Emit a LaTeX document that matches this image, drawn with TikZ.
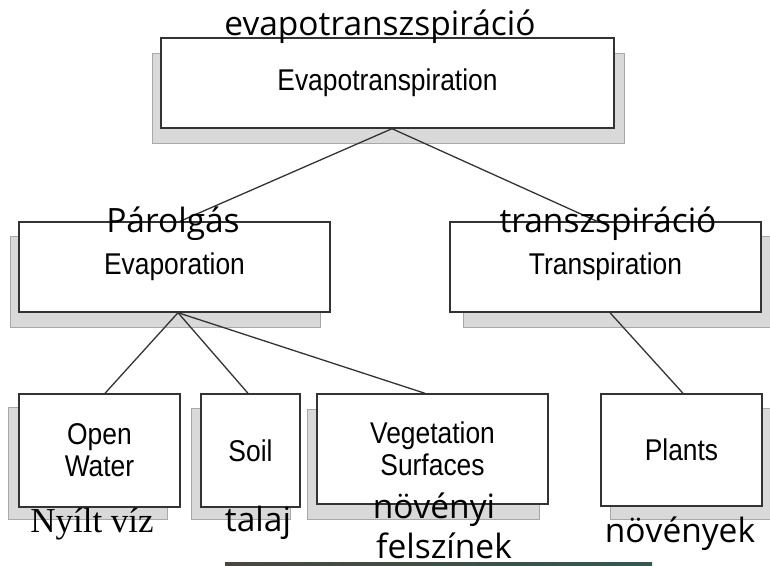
\documentclass[tikz,border=0pt]{standalone}
\usepackage{fontspec}
\setmainfont{Liberation Sans}
\newfontfamily\boxfont[FakeStretch=0.88]{Liberation Sans}
\newfontfamily\hufont{Open Sans}
\newfontfamily\hunserif{Liberation Serif}
\definecolor{boxline}{HTML}{333333}
\definecolor{shadowfill}{HTML}{D9D9D9}
\definecolor{shadowline}{HTML}{A8A8A8}
\definecolor{stripleft}{HTML}{4A463C}
\definecolor{stripright}{HTML}{2E5A52}
\begin{document}
\begin{tikzpicture}[x=1pt, y=-1pt,
    termbox/.style={draw=boxline, line width=1.4pt, fill=white, inner sep=0pt,
      align=center, font=\boxfont\fontsize{30}{32}\selectfont},
    dropshade/.style={fill=shadowfill, draw=shadowline, line width=0.8pt},
    link/.style={draw=boxline, line width=1.3pt},
    hulabel/.style={anchor=base, inner sep=0pt, font=\hufont\fontsize{33.5}{40}\selectfont}]
  \useasboundingbox (0,0) rectangle (770,565);

  % Shadows behind the boxes
  \draw[dropshade] (152,53) rectangle (624,143);
  \draw[dropshade] (10,236) rectangle (320,327);
  \draw[dropshade] (463,236) rectangle (776,327);
  \draw[dropshade] (8,407) rectangle (167,519);
  \draw[dropshade] (191,408) rectangle (290,519);
  \draw[dropshade] (307,409) rectangle (539,519);
  \draw[dropshade] (610,408) rectangle (776,519);

  % Boxes
  \node[termbox, minimum width=453pt, minimum height=90pt] (evapotr) at (387.5,83) {Evapotranspiration};
  \node[termbox, minimum width=311pt, minimum height=90pt] (evap) at (174.5,267) {Evaporation};
  \node[termbox, minimum width=311pt, minimum height=90pt] (transp) at (605.5,267) {Transpiration};
  \node[termbox, minimum width=161pt, minimum height=113pt] (water) at (99.5,450.5) {Open\\Water};
  \node[termbox, minimum width=99pt, minimum height=113pt] (soil) at (250.5,450.5) {Soil};
  \node[termbox, minimum width=231pt, minimum height=110pt] (veget) at (432.5,449) {Vegetation\\Surfaces};
  \node[termbox, minimum width=161pt, minimum height=112pt] (plants) at (681.5,450) {Plants};

  % Connectors
  \draw[link] ([xshift=4.5pt]evapotr.south) -- ([xshift=5.5pt]evap.north);
  \draw[link] ([xshift=4.5pt]evapotr.south) -- ([xshift=-8.5pt]transp.north);
  \draw[link] ([xshift=3.5pt]evap.south) -- ([xshift=5.5pt]water.north);
  \draw[link] ([xshift=3.5pt]evap.south) -- ([xshift=-2.5pt]soil.north);
  \draw[link] ([xshift=3.5pt]evap.south) -- ([xshift=-7.5pt]veget.north);
  \draw[link] ([xshift=4.5pt]transp.south) -- ([xshift=1.5pt]plants.north);

  % Hungarian labels
  \node[hulabel] (huevapotr) at (380,35) {evapotranszspiráció};
  \node[hulabel] (huevap) at (173,232) {Párolgás};
  \node[hulabel] (hutransp) at (608,232) {transzspiráció};
  \node[hulabel, font=\hunserif\fontsize{35}{40}\selectfont] (huwater) at (92,532) {Nyílt víz};
  \node[hulabel] (husoil) at (258,531) {talaj};
  \node[hulabel] (huveget) at (434,518) {növényi};
  \node[hulabel] (huveget2) at (444,558) {felszínek};
  \node[hulabel] (huplants) at (680,542) {növények};

  % Strip at the bottom edge
  \shade[left color=stripleft, right color=stripright] (225,562) rectangle (652,565);
\end{tikzpicture}
\end{document}
